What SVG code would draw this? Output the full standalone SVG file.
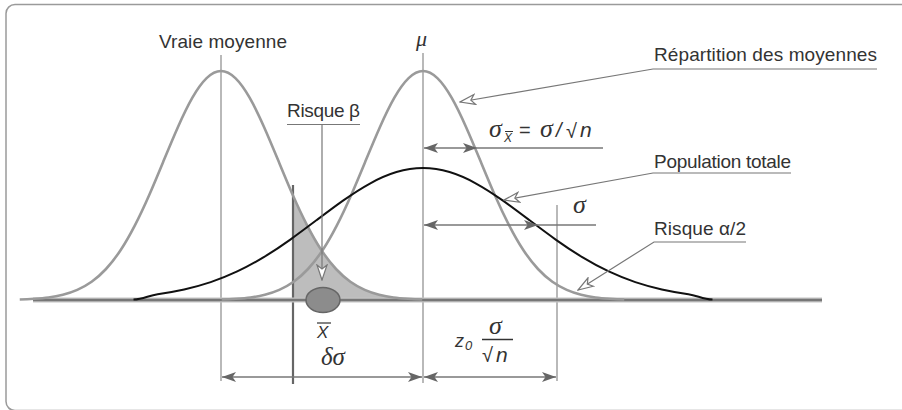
<svg xmlns="http://www.w3.org/2000/svg" xmlns:xlink="http://www.w3.org/1999/xlink" width="902" height="410" viewBox="0 0 902 410">
<style>
.lbl{font-family:"Liberation Sans","DejaVu Sans",sans-serif;font-size:19px;fill:#333}
.mth{font-family:"Liberation Serif","DejaVu Serif",serif;font-style:italic;fill:#333}
.ms{font-family:"Liberation Sans","DejaVu Sans",sans-serif;fill:#333}
.it{font-style:italic}
.vl{stroke:#8a8a8a;stroke-width:1.2;fill:none}
.ld{stroke:#777;stroke-width:1.2;fill:none}
.dim{stroke:#777;stroke-width:1.3;fill:none}
.gc{stroke:#9a9a9a;stroke-width:2.6;fill:none}
</style>
<defs>
<marker id="fa" viewBox="0 0 14 10" refX="14" refY="5" markerWidth="14" markerHeight="10" markerUnits="userSpaceOnUse" orient="auto-start-reverse"><path d="M0,0 L14,5 L0,10 L3.5,5 Z" fill="#666"/></marker>
<marker id="oa" viewBox="-1 -1 17 12" refX="15" refY="5" markerWidth="17" markerHeight="12" markerUnits="userSpaceOnUse" orient="auto"><path d="M0,0 L15,5 L0,10 L4,5 Z" fill="#fff" stroke="#777" stroke-width="1.2" stroke-linejoin="miter"/></marker>
<path id="gauss" d="M-201.25,299.5 C-196.46,299.35 -191.67,299.12 -186.88,298.8 C-182.09,298.48 -177.29,298.14 -172.5,297.5 C-167.71,296.86 -162.92,296 -158.13,294.8 C-153.34,293.6 -148.54,291.99 -143.75,289.9 C-138.96,287.81 -134.17,285.22 -129.38,281.8 C-124.59,278.38 -119.79,274.16 -115,269 C-110.21,263.84 -105.42,257.72 -100.63,250.5 C-95.84,243.28 -91.04,234.89 -86.25,225.6 C-81.46,216.31 -76.67,206.12 -71.88,195.2 C-67.09,184.28 -62.29,172.67 -57.5,161.1 C-52.71,149.53 -47.92,138 -43.13,127.2 C-38.34,116.4 -33.54,106.32 -28.75,97.9 C-23.96,89.48 -19.17,82.72 -14.38,78.1 C-9.58,73.48 -4.79,71 0,71 C4.79,71 9.58,73.48 14.38,78.1 C19.17,82.72 23.96,89.48 28.75,97.9 C33.54,106.32 38.33,116.4 43.13,127.2 C47.92,138 52.71,149.53 57.5,161.1 C62.29,172.67 67.08,184.28 71.88,195.2 C76.67,206.12 81.46,216.31 86.25,225.6 C91.04,234.89 95.83,243.28 100.63,250.5 C105.42,257.72 110.21,263.84 115,269 C119.79,274.16 124.58,278.38 129.38,281.8 C134.17,285.22 138.96,287.81 143.75,289.9 C148.54,291.99 153.33,293.6 158.13,294.8 C162.92,296 167.71,296.86 172.5,297.5 C177.29,298.14 182.08,298.48 186.88,298.8 C191.67,299.12 196.46,299.35 201.25,299.5"/>
</defs>

<rect id="frame" x="6" y="4.5" width="1000" height="406" rx="9" fill="none" stroke="#9a9a9a" stroke-width="1.5"/>

<g id="beta-area">
<path transform="translate(221,0)" fill="#bdbdbd" d="M72,300 L71.88,195.2 C76.67,206.12 81.46,216.31 86.25,225.6 C91.04,234.89 95.83,243.28 100.63,250.5 C105.42,257.72 110.21,263.84 115,269 C119.79,274.16 124.58,278.38 129.38,281.8 C134.17,285.22 138.96,287.81 143.75,289.9 C148.54,291.99 153.33,293.6 158.13,294.8 C162.92,296 167.71,296.86 172.5,297.5 C177.29,298.14 182.08,298.48 186.88,298.8 L186.88,300 Z"/>
</g>

<g id="guides">
<line class="vl" x1="221" y1="55" x2="221" y2="381"/>
<line class="vl" x1="423" y1="53" x2="423" y2="383"/>
<line class="vl" x1="557" y1="205" x2="557" y2="381"/>
<line x1="293" y1="185" x2="293" y2="384" stroke="#666" stroke-width="2.2"/>
</g>

<g id="baseline">
<line x1="33" y1="300" x2="822" y2="300" stroke="#c4c4c4" stroke-width="5"/>
<line x1="33" y1="300" x2="822" y2="300" stroke="#777" stroke-width="2.4"/>
</g>

<g id="curve-vraie">
<use xlink:href="#gauss" href="#gauss" transform="translate(221,0)" class="gc"/>
</g>
<g id="curve-moyennes">
<use xlink:href="#gauss" href="#gauss" transform="translate(423,0)" class="gc"/>
</g>
<g id="curve-population">
<path transform="translate(423,0) scale(0.965,1)" vector-effect="non-scaling-stroke" fill="none" stroke="#111" stroke-width="2" d="M-300,299.6 C-290,299.3 -284.17,295.42 -275,294.21 C-265.83,293 -256.67,291.46 -247.5,289.49 C-238.33,287.52 -229.17,285.12 -220,282.14 C-210.83,279.16 -201.67,275.61 -192.5,271.45 C-183.33,267.29 -174.17,262.5 -165,257.14 C-155.83,251.78 -146.67,245.86 -137.5,239.57 C-128.33,233.28 -119.17,226.61 -110,219.94 C-100.83,213.27 -91.67,206.6 -82.5,200.37 C-73.33,194.14 -64.17,188.36 -55,183.51 C-45.83,178.66 -36.67,174.74 -27.5,172.07 C-18.33,169.4 -9.17,168 0,168 C9.17,168 18.33,169.4 27.5,172.07 C36.67,174.74 45.83,178.66 55,183.51 C64.17,188.36 73.33,194.14 82.5,200.37 C91.67,206.6 100.83,213.27 110,219.94 C119.17,226.61 128.33,233.28 137.5,239.57 C146.67,245.86 155.83,251.78 165,257.14 C174.17,262.5 183.33,267.29 192.5,271.45 C201.67,275.61 210.83,279.16 220,282.14 C229.17,285.12 238.33,287.52 247.5,289.49 C256.67,291.46 265.83,293 275,294.21 C284.17,295.42 290,299.3 300,299.6"/>
</g>

<g id="xbar-point">
<ellipse cx="323" cy="300" rx="17" ry="12.5" fill="#8c8c8c" stroke="#666" stroke-width="1.5"/>
</g>

<g id="connectors">
<path class="ld" d="M877,69 H653 L460,102" marker-end="url(#oa)"/>
<path class="ld" d="M791,173 H653 L504,200" marker-end="url(#oa)"/>
<path class="ld" d="M746,242 H654 L578,290" marker-end="url(#oa)"/>
<path class="ld" d="M287,124.5 H360"/>
<path class="ld" d="M322,124.5 V280" marker-end="url(#oa)"/>
<path class="dim" d="M477,148 H603"/>
<path class="dim" d="M424,148 H477" marker-start="url(#fa)" marker-end="url(#fa)"/>
<path class="dim" d="M538,225 H596"/>
<path class="dim" d="M424,225 H538" marker-start="url(#fa)" marker-end="url(#fa)"/>
<path class="dim" d="M222,377 H422" marker-start="url(#fa)" marker-end="url(#fa)"/>
<path class="dim" d="M424,377 H556" marker-start="url(#fa)" marker-end="url(#fa)"/>
</g>

<g id="labels">
<text class="lbl" x="159" y="48" textLength="128">Vraie moyenne</text>
<text class="mth" x="416" y="46" font-size="22">μ</text>
<text class="lbl" x="287" y="117" textLength="73">Risque β</text>
<text class="lbl" x="654" y="61" textLength="223">Répartition des moyennes</text>
<text class="lbl" x="654" y="168" textLength="137">Population totale</text>
<text class="lbl" x="654" y="235" textLength="92">Risque α/2</text>
</g>

<g id="formula-sigma-xbar">
<text class="mth" x="489" y="137" font-size="26">σ</text>
<text class="ms it" x="504" y="142" font-size="12">X</text>
<line x1="505" y1="131.5" x2="513" y2="131.5" stroke="#333" stroke-width="1"/>
<text class="ms" x="519" y="137" font-size="20">=</text>
<text class="mth" x="540" y="137" font-size="26">σ</text>
<text class="ms it" x="556" y="137" font-size="20">/</text>
<text class="ms" x="566" y="138" font-size="20">√</text>
<text class="ms it" x="580" y="137" font-size="21">n</text>
</g>

<g id="label-sigma">
<text class="mth" x="573" y="213" font-size="26">σ</text>
</g>

<g id="label-xbar">
<text class="ms it" x="317" y="338" font-size="17">X</text>
<line x1="317" y1="323" x2="331" y2="323" stroke="#333" stroke-width="1.2"/>
</g>

<g id="label-delta-sigma">
<text class="mth" x="321" y="365" font-size="25">δσ</text>
</g>

<g id="label-z0">
<text class="ms it" x="455" y="347" font-size="18">z</text>
<text class="ms it" x="465" y="350" font-size="13">0</text>
<text class="mth" x="489" y="334" font-size="26">σ</text>
<line x1="482" y1="339.5" x2="513" y2="339.5" stroke="#333" stroke-width="1.5"/>
<text class="ms" x="482" y="362" font-size="20">√</text>
<text class="ms it" x="496" y="362" font-size="21">n</text>
</g>
</svg>
